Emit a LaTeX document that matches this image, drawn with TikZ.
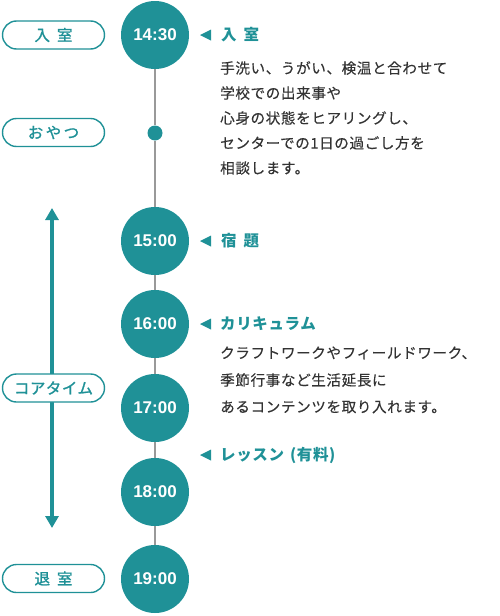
\documentclass[tikz,border=0pt]{standalone}
\usepackage{fontspec}
\newfontfamily\jpls{Noto Sans CJK JP}[LetterSpace=4]
\newfontfamily\jpbody{Noto Sans CJK JP}[LetterSpace=4,FakeBold=0.3]
\newfontfamily\jpmed{Noto Sans CJK JP}[LetterSpace=3,FakeBold=1.2]
\newfontfamily\num{Liberation Sans}
\usetikzlibrary{shapes.misc,arrows.meta}
\definecolor{tealc}{HTML}{1F9197}
\definecolor{bodyc}{HTML}{333333}
\definecolor{linec}{HTML}{999999}
\begin{document}
\begin{tikzpicture}[x=1pt,y=-1pt,
  timec/.style={circle,fill=tealc,minimum size=68pt,inner sep=0pt,text=white,font=\num\bfseries\fontsize{17}{17}\selectfont},
  dotc/.style={circle,fill=tealc,minimum size=15pt,inner sep=0pt},
  pill/.style={rounded rectangle,draw=tealc,line width=1.4pt,fill=white,minimum width=102pt,minimum height=28pt,inner sep=0pt,text=tealc,font=\jpmed\fontsize{15.5}{15.5}\selectfont},
  head/.style={anchor=west,inner sep=0pt,text=tealc,font=\jpls\bfseries\fontsize{15.5}{15.5}\selectfont},
  body/.style={anchor=west,inner sep=0pt,text=bodyc,font=\jpbody\fontsize{14.6}{14.6}\selectfont},
  tl/.style={draw=linec,line width=1.1pt}]
\useasboundingbox (0,0) rectangle (500,616);
% time circles
\node[timec] (t1430) at (155,35) {14:30};
\node[dotc] (dot) at (155,133) {};
\node[timec] (t1500) at (155,241) {15:00};
\node[timec] (t1600) at (155,324) {16:00};
\node[timec] (t1700) at (155,408) {17:00};
\node[timec] (t1800) at (155,492) {18:00};
\node[timec] (t1900) at (155,579) {19:00};
\draw[tl] (t1430) -- (dot);
\draw[tl] (dot) -- (t1500);
\draw[tl] (t1500) -- (t1600);
\draw[tl] (t1600) -- (t1700);
\draw[tl] (t1700) -- (t1800);
\draw[tl] (t1800) -- (t1900);
% core time arrow
\coordinate (atop) at (52,208);
\coordinate (abot) at (52,528);
\draw[tealc,line width=3.5pt,{Triangle[width=13pt,length=12pt]}-{Triangle[width=13pt,length=12pt]}] (atop) -- (abot);
% pills
\node[pill] (p1) at (53.5,35) {入\hspace{7pt}室};
\node[pill] (p2) at (53.5,132.5) {お\hspace{2.5pt}や\hspace{2.5pt}つ};
\node[pill] (p3) at (53.5,388) {コアタイム};
\node[pill] (p4) at (53.5,578.5) {退\hspace{7pt}室};
% markers
\foreach \yy in {35,241,324,455}{
  \fill[tealc] (211,\yy-5.5) -- (200,\yy) -- (211,\yy+5.5) -- cycle;
}
% headings
\node[head] (h1) at (221,35) {入\hspace{7pt}室};
\node[head] (h2) at (221,241) {宿\hspace{7pt}題};
\node[head] (h3) at (220,324) {カリキュラム};
\node[head] (h4) at (220,455) {レッスン\hspace{6pt}(有料)};
% body texts
\node[body] (b11) at (220,68) {手洗い、うがい、検温と合わせて};
\node[body] (b12) at (220,93) {学校での出来事や};
\node[body] (b13) at (220,118) {心身の状態をヒアリングし、};
\node[body] (b14) at (220,143) {センターでの1日の過ごし方を};
\node[body] (b15) at (220,168) {相談します。};
\node[body] (b31) at (220,353) {クラフトワークやフィールドワーク、};
\node[body] (b32) at (220,380) {季節行事など生活延長に};
\node[body] (b33) at (220,407) {あるコンテンツを取り入れます。};
\end{tikzpicture}
\end{document}
